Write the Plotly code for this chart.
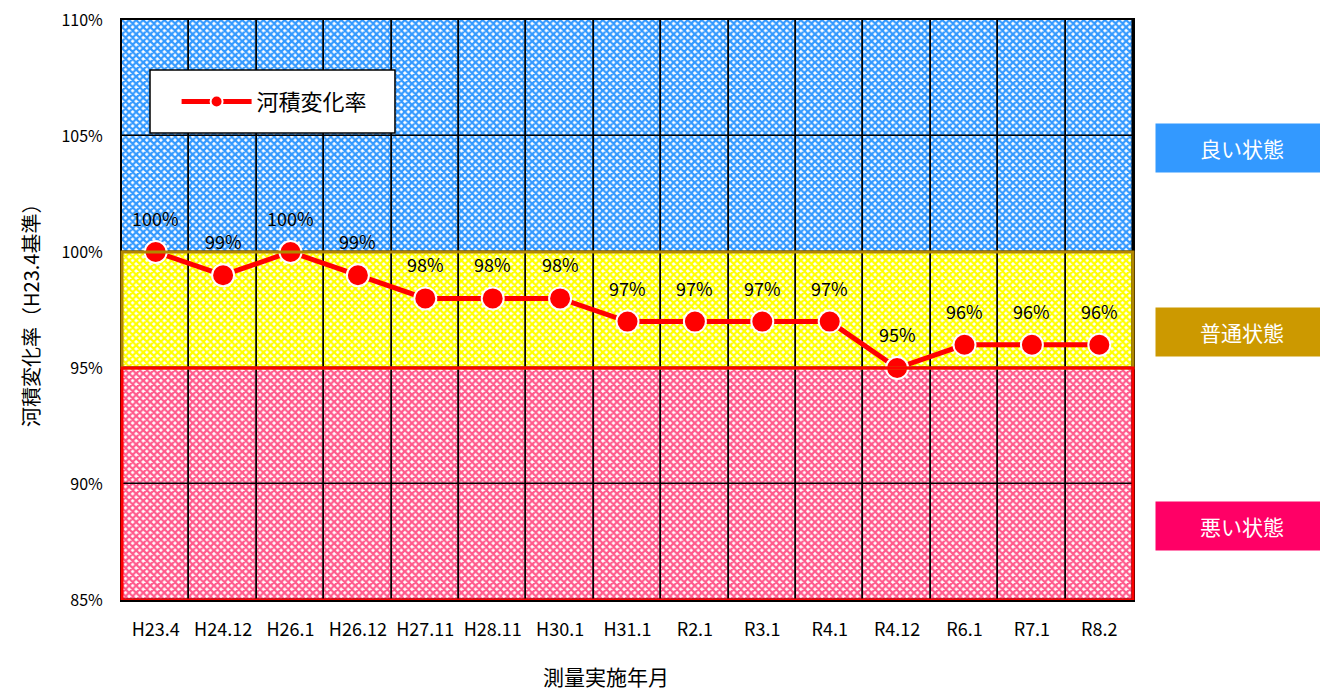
import plotly.graph_objects as go

# survey dates and river cross-section change rate (% of H23.4)
survey_dates = ['H23.4', 'H24.12', 'H26.1', 'H26.12', 'H27.11', 'H28.11', 'H30.1',
                'H31.1', 'R2.1', 'R3.1', 'R4.1', 'R4.12', 'R6.1', 'R7.1', 'R8.2']
change_rate = [100, 99, 100, 99, 98, 98, 98, 97, 97, 97, 97, 95, 96, 96, 96]

# background grid cells (5% steps) and their condition band colours
cell_edges = [85, 90, 95, 100, 105, 110]
cell_colors = ['#FF5A8C', '#FF5A8C', '#FFFF00', '#3399FF', '#3399FF']

# condition labels on the right
state_labels = ['良い状態', '普通状態', '悪い状態']
state_colors = ['#3399FF', '#CC9900', '#FF0066']

FONT = 'Noto Sans CJK JP'

fig = go.Figure()

for lo, hi, col in zip(cell_edges[:-1], cell_edges[1:], cell_colors):
    fig.add_trace(go.Bar(
        x=survey_dates,
        y=[hi - lo] * len(survey_dates),
        base=[lo] * len(survey_dates),
        width=1,
        marker=dict(
            color='white',
            line=dict(color='black', width=1.5),
            pattern=dict(shape='x', fgcolor=col, bgcolor='white',
                         size=5, solidity=0.7, fillmode='replace'),
        ),
        showlegend=False,
        hoverinfo='skip',
    ))

fig.add_trace(go.Scatter(
    x=survey_dates,
    y=change_rate,
    mode='lines+markers',
    name='河積変化率',
    line=dict(color='#FF0000', width=5),
    marker=dict(size=22, color='#FF0000', line=dict(color='white', width=2)),
))

for d, v in zip(survey_dates, change_rate):
    fig.add_annotation(x=d, y=v, text=f'{v:.0f}%', showarrow=False,
                       yshift=34, font=dict(family=FONT, size=18, color='black'))

# band borders
fig.add_shape(type='rect', xref='paper', x0=0, x1=1, yref='y', y0=95, y1=100,
              line=dict(color='#B38600', width=3), layer='above')
fig.add_shape(type='rect', xref='paper', x0=0, x1=1, yref='y', y0=85, y1=95,
              line=dict(color='#FF0000', width=3), layer='above')

# legend box
fig.add_shape(type='rect', xref='paper', yref='paper', x0=0.0277, x1=0.270,
              y0=0.805, y1=0.914, line=dict(color='black', width=1.5),
              fillcolor='white', layer='above')

# state label boxes
for txt, col, yp in zip(state_labels, state_colors, [0.779, 0.462, 0.128]):
    fig.add_annotation(xref='paper', yref='paper', x=1.108, y=yp, text=txt,
                       xanchor='center', yanchor='middle',
                       showarrow=False, bgcolor=col, width=172, height=48,
                       borderpad=0, font=dict(family=FONT, size=21, color='white'))

# axis titles
fig.add_annotation(xref='paper', yref='paper', x=-0.091, y=0.5, text='河積変化率（H23.4基準）',
                   xanchor='center', yanchor='middle',
                   textangle=-90, showarrow=False, font=dict(family=FONT, size=20, color='black'))
fig.add_annotation(xref='paper', yref='paper', x=0.479, y=-0.131, text='測量実施年月',
                   xanchor='center', yanchor='middle',
                   showarrow=False, font=dict(family=FONT, size=21, color='black'))

fig.update_layout(
    width=1328, height=691,
    margin=dict(l=114, r=203, t=12, b=99),
    paper_bgcolor='white', plot_bgcolor='white',
    barmode='overlay', bargap=0,
    font=dict(family=FONT, color='black'),
    legend=dict(x=0.054, y=0.859, xanchor='left', yanchor='middle',
                orientation='h', itemsizing='constant', itemwidth=70,
                bgcolor='rgba(0,0,0,0)', borderwidth=0,
                font=dict(family=FONT, size=22)),
    xaxis=dict(type='category', range=[-0.5, 14.5], showgrid=False, automargin=False,
               showline=True, mirror=True, linecolor='black', linewidth=2,
               ticks='', ticklabelstandoff=12, tickfont=dict(size=18)),
    yaxis=dict(range=[85, 110], dtick=5, ticksuffix='%', showgrid=False, automargin=False,
               zeroline=False, showline=True, mirror=True, linecolor='black',
               linewidth=2, ticks='', ticklabelstandoff=14, ticklabeloverflow='allow',
               tickfont=dict(size=16)),
)

fig.write_html('out.html')
